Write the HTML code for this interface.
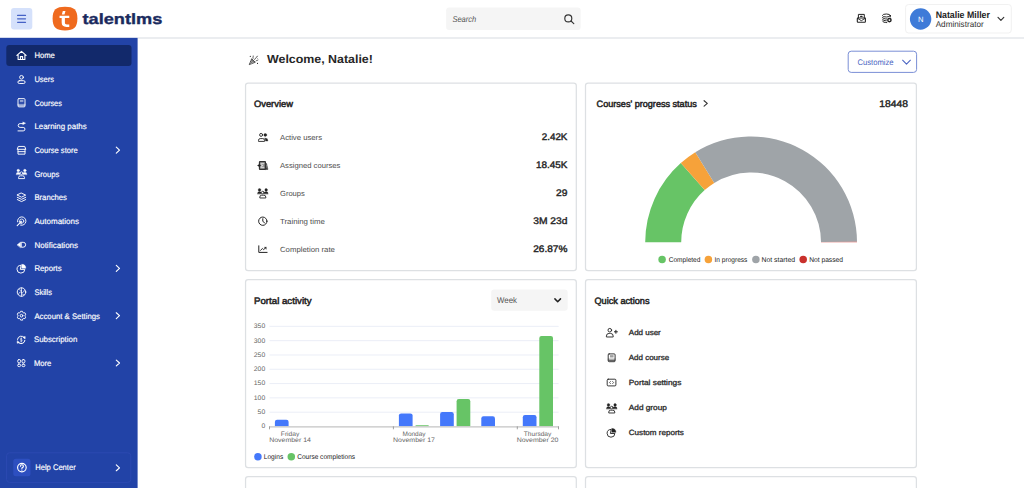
<!DOCTYPE html>
<html>
<head>
<meta charset="utf-8">
<title>TalentLMS</title>
<style>
*{box-sizing:border-box;margin:0;padding:0}
html,body{width:1024px;height:488px;overflow:hidden;background:#fff}
body{font-family:"Liberation Sans",sans-serif;color:#262626;position:relative}
.abs{position:absolute}
svg.layer{position:absolute;left:0;top:0;width:1024px;height:488px;font-family:"Liberation Sans",sans-serif;text-rendering:geometricPrecision}
header{position:absolute;left:0;top:0;width:1024px;height:38px;background:#fff}
nav{position:absolute;left:0;top:38px;width:137px;height:450px;background:#2243a7}
main{position:absolute;left:138px;top:38px;width:886px;height:450px;background:#fff}
section.card{position:absolute;background:#fff;border-radius:3px}
#c1{left:245px;top:82.5px;width:331.8px;height:188.6px}
#c2{left:585px;top:82.5px;width:331.9px;height:188.6px}
#c3{left:245px;top:279.2px;width:331.8px;height:188.8px}
#c4{left:585px;top:279.2px;width:331.9px;height:188.8px}
#c5{left:245px;top:476.1px;width:331.8px;height:30px}
#c6{left:585px;top:476.1px;width:331.9px;height:30px}
</style>
</head>
<body>
<header></header>
<nav></nav>
<main></main>
<section class="card" id="c1"></section>
<section class="card" id="c2"></section>
<section class="card" id="c3"></section>
<section class="card" id="c4"></section>
<section class="card" id="c5"></section>
<section class="card" id="c6"></section>

<!-- shapes -->
<svg class="layer" viewBox="0 0 1024 488">
<rect x="245.55" y="83.00" width="330.75" height="187.60" rx="2.60" fill="#fff" stroke="#dde0e3" stroke-width="1.25"/>
<rect x="585.50" y="83.00" width="330.90" height="187.60" rx="2.60" fill="#fff" stroke="#dde0e3" stroke-width="1.25"/>
<rect x="245.55" y="279.70" width="330.75" height="187.80" rx="2.60" fill="#fff" stroke="#dde0e3" stroke-width="1.25"/>
<rect x="585.50" y="279.70" width="330.90" height="187.80" rx="2.60" fill="#fff" stroke="#dde0e3" stroke-width="1.25"/>
<rect x="245.55" y="476.60" width="330.75" height="43.40" rx="2.60" fill="#fff" stroke="#dde0e3" stroke-width="1.25"/>
<rect x="585.50" y="476.60" width="330.90" height="43.40" rx="2.60" fill="#fff" stroke="#dde0e3" stroke-width="1.25"/>
<path d="M137.6 38 H1024" stroke="#e4e7eb" stroke-width="1.5"/>
<rect x="0" y="37.8" width="137.6" height="451" fill="#2243a7"/>
<rect x="11.00" y="8.00" width="21.30" height="21.60" rx="3.00" fill="#d5e1fb"/>
<path d="M17.6 15.45 H25.5 M17.6 18.85 H25.5 M17.6 22.35 H25.5" stroke="#4562c6" stroke-width="1.25" stroke-linecap="round"/>
<g transform="translate(52.6 6.7) scale(0.496 0.4958)"><path d="M25 0 C43 0 50 6 50 24 C50 42 43 48 25 48 C7 48 0 42 0 24 C0 6 7 0 25 0Z" fill="#ef6a1e"/><path d="M20.6 8.6 H26 L24 15.8 H18.6 Z" fill="#fff"/><path d="M14 18.2 H33.6 V23 H24.8 V32 C24.8 34.8 26.3 36 29 36 H33.6 V40.8 H28 C21.4 40.8 18.3 38 18.3 32 V23 H14 Z" fill="#fff"/></g>
<rect x="446.10" y="7.50" width="134.60" height="22.40" rx="3.00" fill="#f5f5f5"/>
<rect x="905.60" y="4.50" width="105.70" height="28.50" rx="3.00" fill="none" stroke="#f1f1f1" stroke-width="1.00"/>
<circle cx="920.6" cy="19" r="10.7" fill="#3f7bd8"/>
<rect x="6.30" y="45.00" width="125.20" height="21.00" rx="3.00" fill="#12296b"/>
<rect x="6.60" y="452.80" width="124.20" height="29.60" rx="3.00" fill="none" stroke="#2c49b1" stroke-width="1.00"/>
<rect x="13.30" y="458.80" width="17.20" height="17.40" rx="2.50" fill="#2d4fc0"/>
<rect x="848.20" y="51.20" width="68.40" height="21.20" rx="3.00" fill="#fff" stroke="#7a8fd6" stroke-width="1.00"/>
<rect x="491.20" y="289.50" width="76.50" height="21.30" rx="3.00" fill="#f5f5f5"/>
<path d="M645.20 242.30 A105.9 105.9 0 0 1 680.79 163.11 L704.69 190.03 A69.9 69.9 0 0 0 681.20 242.30 Z" fill="#67c466"/>
<path d="M680.79 163.11 A105.9 105.9 0 0 1 695.30 152.30 L714.27 182.89 A69.9 69.9 0 0 0 704.69 190.03 Z" fill="#f6a23a"/>
<path d="M695.30 152.30 A105.9 105.9 0 0 1 857.00 241.75 L821.00 241.93 A69.9 69.9 0 0 0 714.27 182.89 Z" fill="#9fa4a8"/>
<path d="M857.00 241.75 A105.9 105.9 0 0 1 857.00 242.30 L821.00 242.30 A69.9 69.9 0 0 0 821.00 241.93 Z" fill="#d9534f"/>
<path d="M269.5 326.37 H558.6 M269.5 340.67 H558.6 M269.5 354.98 H558.6 M269.5 369.28 H558.6 M269.5 383.58 H558.6 M269.5 397.89 H558.6 M269.5 412.19 H558.6" stroke="#e9ecf6" stroke-width="0.9"/>
<path d="M274.90 426.30 V421.90 Q274.90 419.70 277.10 419.70 H286.40 Q288.60 419.70 288.60 421.90 V426.30 Z" fill="#4478fb"/>
<path d="M398.90 426.30 V415.60 Q398.90 413.40 401.10 413.40 H410.40 Q412.60 413.40 412.60 415.60 V426.30 Z" fill="#4478fb"/>
<path d="M415.30 426.30 V426.30 Q415.30 425.20 416.40 425.20 H427.90 Q429.00 425.20 429.00 426.30 V426.30 Z" fill="#67c466"/>
<path d="M440.10 426.30 V414.20 Q440.10 412.00 442.30 412.00 H451.60 Q453.80 412.00 453.80 414.20 V426.30 Z" fill="#4478fb"/>
<path d="M456.60 426.30 V401.30 Q456.60 399.10 458.80 399.10 H468.10 Q470.30 399.10 470.30 401.30 V426.30 Z" fill="#67c466"/>
<path d="M481.30 426.30 V418.50 Q481.30 416.30 483.50 416.30 H492.80 Q495.00 416.30 495.00 418.50 V426.30 Z" fill="#4478fb"/>
<path d="M522.80 426.30 V417.30 Q522.80 415.10 525.00 415.10 H534.30 Q536.50 415.10 536.50 417.30 V426.30 Z" fill="#4478fb"/>
<path d="M539.30 426.30 V338.10 Q539.30 335.90 541.50 335.90 H550.80 Q553.00 335.90 553.00 338.10 V426.30 Z" fill="#67c466"/>
<path d="M269.2 426.8 H558.9" stroke="#c4c4c4" stroke-width="1.2"/>
<path d="M269.5 426.4 V429.3 M393.4 426.4 V429.3 M517.3 426.4 V429.3 M558.5 426.4 V429.3" stroke="#8a8a8a" stroke-width="0.8"/>
<circle cx="257.90" cy="456.75" r="3.75" fill="#4478fb"/>
<circle cx="291.30" cy="456.75" r="3.75" fill="#67c466"/>
<circle cx="662.10" cy="259.45" r="3.75" fill="#67c466"/>
<circle cx="708.40" cy="259.45" r="3.75" fill="#f6a23a"/>
<circle cx="755.90" cy="259.45" r="3.75" fill="#9fa4a8"/>
<circle cx="803.20" cy="259.45" r="3.75" fill="#c9302c"/>
</svg>
<!-- icons -->
<svg class="layer" viewBox="0 0 1024 488">
<g fill="none" stroke="#333" stroke-width="1.15" stroke-linecap="round"><circle cx="568.3" cy="18.4" r="3.5"/><path d="M571 21 L573.8 23.6"/></g>
<g fill="none" stroke="#222" stroke-width="1" stroke-linejoin="round" stroke-linecap="round">
<path d="M858.4 17.8 V14.4 H864.3 V17.8"/><path d="M860.6 16.4 H862.1" stroke-width="1.1"/>
<rect x="857.3" y="18" width="8.1" height="4.2" rx="0.7" stroke-width="1.1"/><path d="M857.5 18.3 L861.35 20.7 L865.2 18.3" stroke-width="0.9"/>
</g>
<g fill="none" stroke="#222" stroke-width="0.95" stroke-linecap="round">
<ellipse cx="886.4" cy="15.5" rx="3.9" ry="1.5"/><path d="M882.5 17.4 C882.7 18.4 884.4 19 886.6 19"/><path d="M882.5 19.2 C882.7 20.2 884.4 20.8 886.3 20.8"/><path d="M882.5 21 C882.7 22 884.4 22.6 886.8 22.6"/><path d="M890.3 15.6 V17"/>
<circle cx="889.4" cy="20.1" r="1.65" stroke-width="1.45"/>
</g>
<path d="M998 17.3 L1000.9 20.3 L1003.8 17.3" fill="none" stroke="#333" stroke-width="1.15" stroke-linecap="round" stroke-linejoin="round"/>
<path d="M902.6 60.2 L906.5 64.2 L910.4 60.2" fill="none" stroke="#4a64c2" stroke-width="1.05" stroke-linecap="round" stroke-linejoin="round"/>
<path d="M554.9 298.9 L557.7 301.7 L560.5 298.9" fill="none" stroke="#222" stroke-width="1.5" stroke-linecap="round" stroke-linejoin="round"/>
<path d="M704.1 100.7 L707.3 103.4 L704.1 106.1" fill="none" stroke="#333" stroke-width="1.15" stroke-linecap="round" stroke-linejoin="round"/>
<g fill="none" stroke="#2b2b2b" stroke-width="0.75" stroke-linecap="round" stroke-linejoin="round"><path d="M249.4 64.3 L251.7 58.7 L255 62 Z" fill="#777"/><path d="M251 60.6 L253 62.8 M250.2 62.4 L251.3 63.6" stroke="#fff" stroke-width="0.4"/><path d="M253 58.3 C252.6 57.4 253.4 56.8 253.3 56 M254.6 59.4 C255.2 57.8 256.6 58 257.4 56.2 M256 60.9 C256.8 60.2 257.4 60.6 258 60.1" stroke-width="0.8"/><circle cx="250.3" cy="56.4" r="0.55" fill="#2b2b2b" stroke="none"/><circle cx="257.5" cy="63.4" r="0.55" fill="#2b2b2b" stroke="none"/><circle cx="257.6" cy="58.3" r="0.4" fill="#2b2b2b" stroke="none"/></g>
<g fill="none" stroke="#fff" stroke-width="0.95" stroke-linecap="round" stroke-linejoin="round">
<path d="M16.9 55.35 L21.5 51.35 L26.1 55.35 M18.1 54.65 V59.45 H24.9 V54.65 M20.4 59.45 V56.65 H22.6 V59.45" stroke-width="1.1"/>
<circle cx="21.5" cy="77.30" r="1.85"/><rect x="17.9" y="80.70" width="7.2" height="2.8" rx="1.4"/>
<rect x="18.00" y="98.65" width="7.00" height="8.20" rx="0.9"/><path d="M20.24 100.55 h2.80 M20.24 101.65 h2.80" stroke-width="0.55"/><path d="M18.00 104.35 h7.00" stroke-width="0.55"/><path d="M18.40 105.65 h6.20" stroke-width="0.7"/>
<path d="M23.4 123.60 H20.1 a1.9 1.9 0 0 0 0 3.8 H23.2 a1.75 1.75 0 0 1 0 3.5 H18"/>
<path d="M23 122.10 L25.6 123.20 L23 124.60 Z" fill="#fff" stroke-width="0.4"/>
<path d="M17.3 148.95 L18.3 146.45 H24.7 L25.7 148.95 Z" /><path d="M18 149.25 V154.15 H25 V149.25 M18 151.65 H25"/>
<path d="M116.3 147.20 L119.5 150.15 L116.3 153.10" stroke-width="1.15"/>
<circle cx="18.25" cy="170.50" r="1.3" fill="#fff" stroke="#fff" stroke-width="0.3"/>
<path d="M16.20 174.40 a2.05 2.2 0 0 1 4.1 0 z" fill="#fff" stroke="#fff" stroke-width="0.3"/>
<circle cx="24.85" cy="170.50" r="1.3" fill="#fff" stroke="#fff" stroke-width="0.3"/>
<path d="M22.80 174.40 a2.05 2.2 0 0 1 4.1 0 z" fill="#fff" stroke="#fff" stroke-width="0.3"/>
<circle cx="21.55" cy="173.20" r="1.35" fill="#2243a7" stroke-width="0.85"/>
<path d="M18.55 178.20 v-0.5 a1.9 1.9 0 0 1 1.9 -1.9 h2.2 a1.9 1.9 0 0 1 1.9 1.9 v0.5 z" stroke-width="0.9"/>
<path d="M21.5 193.15 L25.7 195.15 L21.5 197.15 L17.3 195.15 Z M17.3 197.35 L21.5 199.35 L25.7 197.35 M17.3 199.55 L21.5 201.55 L25.7 199.55"/>
<path d="M17.56 221.83 A4.2 4.2 0 1 1 20.61 225.16"/>
<circle cx="21.7" cy="221.10" r="2.1" stroke-width="0.75"/>
<path d="M17.2 225.70 L20 222.90" stroke-width="1.1"/><path d="M19.3 221.60 L21.9 221.00 L21.3 223.70 Z" fill="#fff" stroke-width="0.4"/>
<path d="M17.3 244.75 L20.5 242.15 V247.35 Z" fill="#fff" stroke-width="0.5"/>
<path d="M21.6 242.30 H23.2 a2.45 2.45 0 0 1 0 4.9 H21.6 Z"/>
<path d="M20.70 265.30 A3.9 3.9 0 1 0 24.80 269.40 H20.70 Z"/><path d="M21.90 264.30 A3.9 3.9 0 0 1 25.80 268.20 H21.90 Z" fill="#fff" stroke-width="0.4"/>
<path d="M116.3 265.45 L119.5 268.40 L116.3 271.35" stroke-width="1.15"/>
<circle cx="21.5" cy="292.05" r="4.25"/>
<path d="M21.5 287.85 V296.25 M21.5 291.85 C19.8 291.85 18.8 292.65 18.6 294.25 M21.5 292.65 C23.2 292.65 24.2 291.85 24.4 290.25 M19 289.25 C20 290.25 20.6 290.45 21.5 290.45 M24 294.95 C23 294.05 22.4 293.95 21.5 293.95" stroke-width="0.7"/>
<path d="M22.39 320.11 L20.61 320.11 L20.36 319.11 L19.12 318.40 L18.13 318.68 L17.23 317.13 L17.97 316.42 L17.97 314.98 L17.23 314.27 L18.13 312.72 L19.12 313.00 L20.36 312.29 L20.61 311.29 L22.39 311.29 L22.64 312.29 L23.88 313.00 L24.87 312.72 L25.77 314.27 L25.03 314.98 L25.03 316.42 L25.77 317.13 L24.87 318.68 L23.88 318.40 L22.64 319.11 Z" stroke-width="0.9"/>
<circle cx="21.5" cy="315.70" r="1.35"/>
<path d="M116.3 312.75 L119.5 315.70 L116.3 318.65" stroke-width="1.15"/>
<path d="M17.5 339.40 A3.75 3.75 0 0 1 24.3 337.80 M24.9 340.40 A3.75 3.75 0 0 1 18.1 342.00" stroke-width="1"/>
<path d="M23.2 337.00 L25.2 336.60 L25.1 338.70 Z M19.2 342.80 L17.2 343.20 L17.3 341.10 Z" fill="#fff" stroke-width="0.5"/>
<path d="M22.1 338.90 C21.7 338.30 20.3 338.30 20.4 339.20 C20.5 339.80 22.1 340.00 22.2 340.60 C22.3 341.50 20.8 341.50 20.3 340.90 M21.25 337.80 V342.00" stroke-width="0.6"/>
<rect x="17.70" y="359.60" width="2.9" height="3.2" rx="1.2"/>
<rect x="17.70" y="364.10" width="2.9" height="2.5" rx="1.1"/>
<rect x="22.00" y="359.60" width="2.9" height="3.2" rx="1.2"/>
<rect x="22.00" y="364.10" width="2.9" height="2.5" rx="1.1"/>
<path d="M116.3 360.05 L119.5 363.00 L116.3 365.95" stroke-width="1.15"/>
<circle cx="21.9" cy="467.6" r="4.3" stroke-width="1.15"/>
<path d="M20.5 466.2 a1.45 1.45 0 1 1 2 1.35 c-0.4 0.2 -0.6 0.5 -0.6 1" stroke-width="1.15"/><circle cx="21.9" cy="470.1" r="0.65" fill="#fff" stroke="none"/>
<path d="M116.3 464.85 L119.5 467.80 L116.3 470.75" stroke-width="1.15"/>
</g>
<g fill="none" stroke="#222" stroke-width="0.9" stroke-linecap="round" stroke-linejoin="round">
<circle cx="261.1" cy="134.9" r="1.5"/><circle cx="265.3" cy="135" r="1.45" fill="#222" stroke-width="0.3"/>
<path d="M258.5 141 v-0.7 a1.7 1.7 0 0 1 1.7 -1.7 h2.6 a1.7 1.7 0 0 1 1.7 1.7 v0.7 z"/>
<path d="M264.6 138.2 h1.1 a2.1 2.1 0 0 1 2.1 2.1 v0.8 h-2.4 v-0.9 a2.6 2.6 0 0 0 -0.8 -2 z" fill="#222" stroke-width="0.3"/>
<rect x="259.5" y="161.5" width="5.9" height="7.9" rx="0.5" stroke-width="1.25" stroke="#333" fill="#9a9a9a"/>
<path d="M261 163.4 h3 M261 167.6 h3" stroke="#fff" stroke-width="0.6"/><path d="M261.2 164.6 l1.6 0.9 l-1.6 0.9" stroke="#fff" stroke-width="0.6"/>
<path d="M257.9 165.5 h2.4 M259.1 164.3 v2.4" stroke-width="1"/>
<path d="M265.6 163.2 L266.6 163.6 L267.9 169.4 L265.6 169.6 Z" fill="#333" stroke="#333" stroke-width="0.5"/><path d="M266.4 165 L266.9 168" stroke="#bbb" stroke-width="0.5"/>
<circle cx="259.50" cy="189.90" r="1.3" fill="#222" stroke="#222" stroke-width="0.3"/>
<path d="M257.45 193.80 a2.05 2.2 0 0 1 4.1 0 z" fill="#222" stroke="#222" stroke-width="0.3"/>
<circle cx="266.10" cy="189.90" r="1.3" fill="#222" stroke="#222" stroke-width="0.3"/>
<path d="M264.05 193.80 a2.05 2.2 0 0 1 4.1 0 z" fill="#222" stroke="#222" stroke-width="0.3"/>
<circle cx="262.80" cy="192.60" r="1.35" fill="#fff" stroke-width="0.85"/>
<path d="M259.80 197.60 v-0.5 a1.9 1.9 0 0 1 1.9 -1.9 h2.2 a1.9 1.9 0 0 1 1.9 1.9 v0.5 z" stroke-width="0.9"/>
<circle cx="262.8" cy="221.2" r="4.15" stroke-width="1"/><path d="M262.8 218.7 V221.4 L264.5 222.7" stroke-width="1"/>
<path d="M258.8 245.8 V252.4 H267.1" stroke-width="1"/><path d="M260.6 250.3 L262.4 248.5 L263.7 249.6 L265.8 247.6" stroke-width="0.95"/><path d="M264.4 247.2 H266.3 V249.1 Z" fill="#222" stroke-width="0.3"/>
<circle cx="609.8" cy="330.2" r="1.8"/><path d="M606.4 336.6 v-0.5 a2.7 2.7 0 0 1 2.7 -2.7 h1.4 a2.7 2.7 0 0 1 2.7 2.7 v0.5 z"/><path d="M615.9 330.3 V333.3 M614.4 331.8 H617.4" stroke-width="1"/>
<rect x="608.20" y="353.90" width="6.90" height="7.80" rx="0.9"/><path d="M610.41 355.80 h2.76 M610.41 356.90 h2.76" stroke-width="0.55"/><path d="M608.20 359.20 h6.90" stroke-width="0.55"/><path d="M608.60 360.50 h6.10" stroke-width="0.7"/>
<rect x="607.2" y="379.2" width="8.7" height="6.7" rx="1"/><path d="M610.5 381.5 L609.5 382.55 L610.5 383.6 M612.6 381.5 L613.6 382.55 L612.6 383.6" stroke-width="0.7"/>
<circle cx="608.45" cy="404.90" r="1.3" fill="#222" stroke="#222" stroke-width="0.3"/>
<path d="M606.40 408.80 a2.05 2.2 0 0 1 4.1 0 z" fill="#222" stroke="#222" stroke-width="0.3"/>
<circle cx="615.05" cy="404.90" r="1.3" fill="#222" stroke="#222" stroke-width="0.3"/>
<path d="M613.00 408.80 a2.05 2.2 0 0 1 4.1 0 z" fill="#222" stroke="#222" stroke-width="0.3"/>
<circle cx="611.75" cy="407.60" r="1.35" fill="#fff" stroke-width="0.85"/>
<path d="M608.75 412.60 v-0.5 a1.9 1.9 0 0 1 1.9 -1.9 h2.2 a1.9 1.9 0 0 1 1.9 1.9 v0.5 z" stroke-width="0.9"/>
<path d="M610.80 429.40 A3.9 3.9 0 1 0 614.90 433.50 H610.80 Z"/><path d="M612.00 428.40 A3.9 3.9 0 0 1 615.90 432.30 H612.00 Z" fill="#222" stroke-width="0.4"/>
</g>
</svg>
<!-- text -->
<svg class="layer" viewBox="0 0 1024 488">
<text id="brand" font-size="15.00" y="24" x="82.50" textLength="79.80" lengthAdjust="spacingAndGlyphs" font-weight="bold" fill="#1a2a5e" stroke="#1a2a5e" stroke-width="0.35" >talentlms</text>
<text id="searchtx" font-size="8.40" y="22" x="452.40" textLength="23.80" lengthAdjust="spacingAndGlyphs" font-style="italic" fill="#555" >Search</text>
<text id="avN" font-size="7.60" y="22" fill="#fff" x="920.7" text-anchor="middle" >N</text>
<text id="uname" font-size="9.50" y="18" x="935.70" textLength="54.20" lengthAdjust="spacingAndGlyphs" font-weight="bold" fill="#222" >Natalie Miller</text>
<text id="urole" font-size="8.40" y="27" x="935.70" textLength="48.00" lengthAdjust="spacingAndGlyphs" fill="#333" >Administrator</text>
<text id="m0" font-size="8.10" y="58" x="34.40" textLength="20.50" lengthAdjust="spacingAndGlyphs" fill="#fff" stroke="#fff" stroke-width="0.16" >Home</text>
<text id="m1" font-size="8.10" y="82" x="34.40" textLength="19.70" lengthAdjust="spacingAndGlyphs" fill="#fff" stroke="#fff" stroke-width="0.16" >Users</text>
<text id="m2" font-size="8.10" y="106" x="34.40" textLength="27.50" lengthAdjust="spacingAndGlyphs" fill="#fff" stroke="#fff" stroke-width="0.16" >Courses</text>
<text id="m3" font-size="8.10" y="129" x="34.40" textLength="52.30" lengthAdjust="spacingAndGlyphs" fill="#fff" stroke="#fff" stroke-width="0.16" >Learning paths</text>
<text id="m4" font-size="8.10" y="153" x="34.40" textLength="43.30" lengthAdjust="spacingAndGlyphs" fill="#fff" stroke="#fff" stroke-width="0.16" >Course store</text>
<text id="m5" font-size="8.10" y="177" x="34.40" textLength="25.00" lengthAdjust="spacingAndGlyphs" fill="#fff" stroke="#fff" stroke-width="0.16" >Groups</text>
<text id="m6" font-size="8.10" y="200" x="34.40" textLength="32.60" lengthAdjust="spacingAndGlyphs" fill="#fff" stroke="#fff" stroke-width="0.16" >Branches</text>
<text id="m7" font-size="8.10" y="224" x="34.40" textLength="44.70" lengthAdjust="spacingAndGlyphs" fill="#fff" stroke="#fff" stroke-width="0.16" >Automations</text>
<text id="m8" font-size="8.10" y="248" x="34.40" textLength="43.70" lengthAdjust="spacingAndGlyphs" fill="#fff" stroke="#fff" stroke-width="0.16" >Notifications</text>
<text id="m9" font-size="8.10" y="271" x="34.40" textLength="27.30" lengthAdjust="spacingAndGlyphs" fill="#fff" stroke="#fff" stroke-width="0.16" >Reports</text>
<text id="m10" font-size="8.10" y="295" x="34.40" textLength="17.60" lengthAdjust="spacingAndGlyphs" fill="#fff" stroke="#fff" stroke-width="0.16" >Skills</text>
<text id="m11" font-size="8.10" y="319" x="34.40" textLength="65.60" lengthAdjust="spacingAndGlyphs" fill="#fff" stroke="#fff" stroke-width="0.16" >Account &amp; Settings</text>
<text id="m12" font-size="8.10" y="342" x="33.90" textLength="43.40" lengthAdjust="spacingAndGlyphs" fill="#fff" stroke="#fff" stroke-width="0.16" >Subscription</text>
<text id="m13" font-size="8.10" y="366" x="33.90" textLength="17.40" lengthAdjust="spacingAndGlyphs" fill="#fff" stroke="#fff" stroke-width="0.16" >More</text>
<text id="help" font-size="8.10" y="470" x="35.20" textLength="40.50" lengthAdjust="spacingAndGlyphs" fill="#fff" stroke="#fff" stroke-width="0.16" >Help Center</text>
<text id="welcome" font-size="11.80" y="63" x="267.00" textLength="105.90" lengthAdjust="spacingAndGlyphs" font-weight="bold" fill="#262626" >Welcome, Natalie!</text>
<text id="custtx" font-size="8.20" y="65" x="857.40" textLength="36.20" lengthAdjust="spacingAndGlyphs" fill="#4a64c2" >Customize</text>
<text id="t1" font-size="9.30" y="107" x="254.00" textLength="38.90" lengthAdjust="spacingAndGlyphs" fill="#262626" stroke="#262626" stroke-width="0.5" >Overview</text>
<text id="t2" font-size="9.30" y="107" x="596.60" textLength="100.20" lengthAdjust="spacingAndGlyphs" fill="#262626" stroke="#262626" stroke-width="0.5" >Courses' progress status</text>
<text id="t3" font-size="9.30" y="304" x="254.00" textLength="57.60" lengthAdjust="spacingAndGlyphs" fill="#262626" stroke="#262626" stroke-width="0.5" >Portal activity</text>
<text id="t4" font-size="9.30" y="304" x="594.40" textLength="55.10" lengthAdjust="spacingAndGlyphs" fill="#262626" stroke="#262626" stroke-width="0.5" >Quick actions</text>
<text id="total" font-size="9.60" y="107" x="879.20" textLength="28.70" lengthAdjust="spacingAndGlyphs" fill="#262626" stroke="#262626" stroke-width="0.4" >18448</text>
<text id="ol0" font-size="7.45" y="140" x="280.00" textLength="42.00" lengthAdjust="spacingAndGlyphs" fill="#4d4d4d" >Active users</text>
<text id="ov0" font-size="9.50" y="140" x="541.80" textLength="25.60" lengthAdjust="spacingAndGlyphs" fill="#262626" stroke="#262626" stroke-width="0.4" >2.42K</text>
<text id="ol1" font-size="7.45" y="168" x="280.00" textLength="60.40" lengthAdjust="spacingAndGlyphs" fill="#4d4d4d" >Assigned courses</text>
<text id="ov1" font-size="9.50" y="168" x="535.90" textLength="31.50" lengthAdjust="spacingAndGlyphs" fill="#262626" stroke="#262626" stroke-width="0.4" >18.45K</text>
<text id="ol2" font-size="7.45" y="196" x="280.00" textLength="24.80" lengthAdjust="spacingAndGlyphs" fill="#4d4d4d" >Groups</text>
<text id="ov2" font-size="9.50" y="196" x="556.00" textLength="11.40" lengthAdjust="spacingAndGlyphs" fill="#262626" stroke="#262626" stroke-width="0.4" >29</text>
<text id="ol3" font-size="7.45" y="224" x="280.00" textLength="44.90" lengthAdjust="spacingAndGlyphs" fill="#4d4d4d" >Training time</text>
<text id="ov3" font-size="9.50" y="224" x="533.20" textLength="34.20" lengthAdjust="spacingAndGlyphs" fill="#262626" stroke="#262626" stroke-width="0.4" >3M 23d</text>
<text id="ol4" font-size="7.45" y="252" x="280.00" textLength="54.90" lengthAdjust="spacingAndGlyphs" fill="#4d4d4d" >Completion rate</text>
<text id="ov4" font-size="9.50" y="252" x="533.20" textLength="34.20" lengthAdjust="spacingAndGlyphs" fill="#262626" stroke="#262626" stroke-width="0.4" >26.87%</text>
<text id="qa0" font-size="7.50" y="335" x="628.80" textLength="32.00" lengthAdjust="spacingAndGlyphs" fill="#2b2b2b" stroke="#2b2b2b" stroke-width="0.3" >Add user</text>
<text id="qa1" font-size="7.50" y="360" x="628.80" textLength="40.30" lengthAdjust="spacingAndGlyphs" fill="#2b2b2b" stroke="#2b2b2b" stroke-width="0.3" >Add course</text>
<text id="qa2" font-size="7.50" y="385" x="628.80" textLength="52.50" lengthAdjust="spacingAndGlyphs" fill="#2b2b2b" stroke="#2b2b2b" stroke-width="0.3" >Portal settings</text>
<text id="qa3" font-size="7.50" y="410" x="628.80" textLength="38.10" lengthAdjust="spacingAndGlyphs" fill="#2b2b2b" stroke="#2b2b2b" stroke-width="0.3" >Add group</text>
<text id="qa4" font-size="7.50" y="435" x="628.80" textLength="55.10" lengthAdjust="spacingAndGlyphs" fill="#2b2b2b" stroke="#2b2b2b" stroke-width="0.3" >Custom reports</text>
<text id="week" font-size="8.30" y="303" x="497.10" textLength="19.90" lengthAdjust="spacingAndGlyphs" fill="#555" >Week</text>
<text id="ay0" font-size="6.70" y="328" x="253.80" textLength="11.40" lengthAdjust="spacingAndGlyphs" fill="#666" >350</text>
<text id="ay1" font-size="6.70" y="343" x="253.80" textLength="11.40" lengthAdjust="spacingAndGlyphs" fill="#666" >300</text>
<text id="ay2" font-size="6.70" y="357" x="253.80" textLength="11.40" lengthAdjust="spacingAndGlyphs" fill="#666" >250</text>
<text id="ay3" font-size="6.70" y="371" x="253.80" textLength="11.40" lengthAdjust="spacingAndGlyphs" fill="#666" >200</text>
<text id="ay4" font-size="6.70" y="385" x="253.80" textLength="11.40" lengthAdjust="spacingAndGlyphs" fill="#666" >150</text>
<text id="ay5" font-size="6.70" y="400" x="253.80" textLength="11.40" lengthAdjust="spacingAndGlyphs" fill="#666" >100</text>
<text id="ay6" font-size="6.70" y="414" x="257.60" textLength="7.60" lengthAdjust="spacingAndGlyphs" fill="#666" >50</text>
<text id="ay7" font-size="6.70" y="428" x="261.40" textLength="3.80" lengthAdjust="spacingAndGlyphs" fill="#666" >0</text>
<text id="xa0" font-size="6.40" y="436" x="280.80" textLength="18.60" lengthAdjust="spacingAndGlyphs" fill="#666" >Friday</text>
<text id="xb0" font-size="6.40" y="442" x="269.20" textLength="41.80" lengthAdjust="spacingAndGlyphs" fill="#666" >November 14</text>
<text id="xa1" font-size="6.40" y="436" x="402.50" textLength="23.00" lengthAdjust="spacingAndGlyphs" fill="#666" >Monday</text>
<text id="xb1" font-size="6.40" y="442" x="393.10" textLength="41.80" lengthAdjust="spacingAndGlyphs" fill="#666" >November 17</text>
<text id="xa2" font-size="6.40" y="436" x="523.85" textLength="27.50" lengthAdjust="spacingAndGlyphs" fill="#666" >Thursday</text>
<text id="xb2" font-size="6.40" y="442" x="516.70" textLength="41.80" lengthAdjust="spacingAndGlyphs" fill="#666" >November 20</text>
<text id="lg1" font-size="6.90" y="459" x="263.80" textLength="19.40" lengthAdjust="spacingAndGlyphs" fill="#222" >Logins</text>
<text id="lg2" font-size="6.90" y="459" x="297.20" textLength="57.90" lengthAdjust="spacingAndGlyphs" fill="#222" >Course completions</text>
<text id="gl1" font-size="6.90" y="262" x="668.70" textLength="31.70" lengthAdjust="spacingAndGlyphs" fill="#222" >Completed</text>
<text id="gl2" font-size="6.90" y="262" x="714.50" textLength="32.90" lengthAdjust="spacingAndGlyphs" fill="#222" >In progress</text>
<text id="gl3" font-size="6.90" y="262" x="761.50" textLength="33.50" lengthAdjust="spacingAndGlyphs" fill="#222" >Not started</text>
<text id="gl4" font-size="6.90" y="262" x="809.20" textLength="33.80" lengthAdjust="spacingAndGlyphs" fill="#222" >Not passed</text>
</svg>
</body>
</html>
